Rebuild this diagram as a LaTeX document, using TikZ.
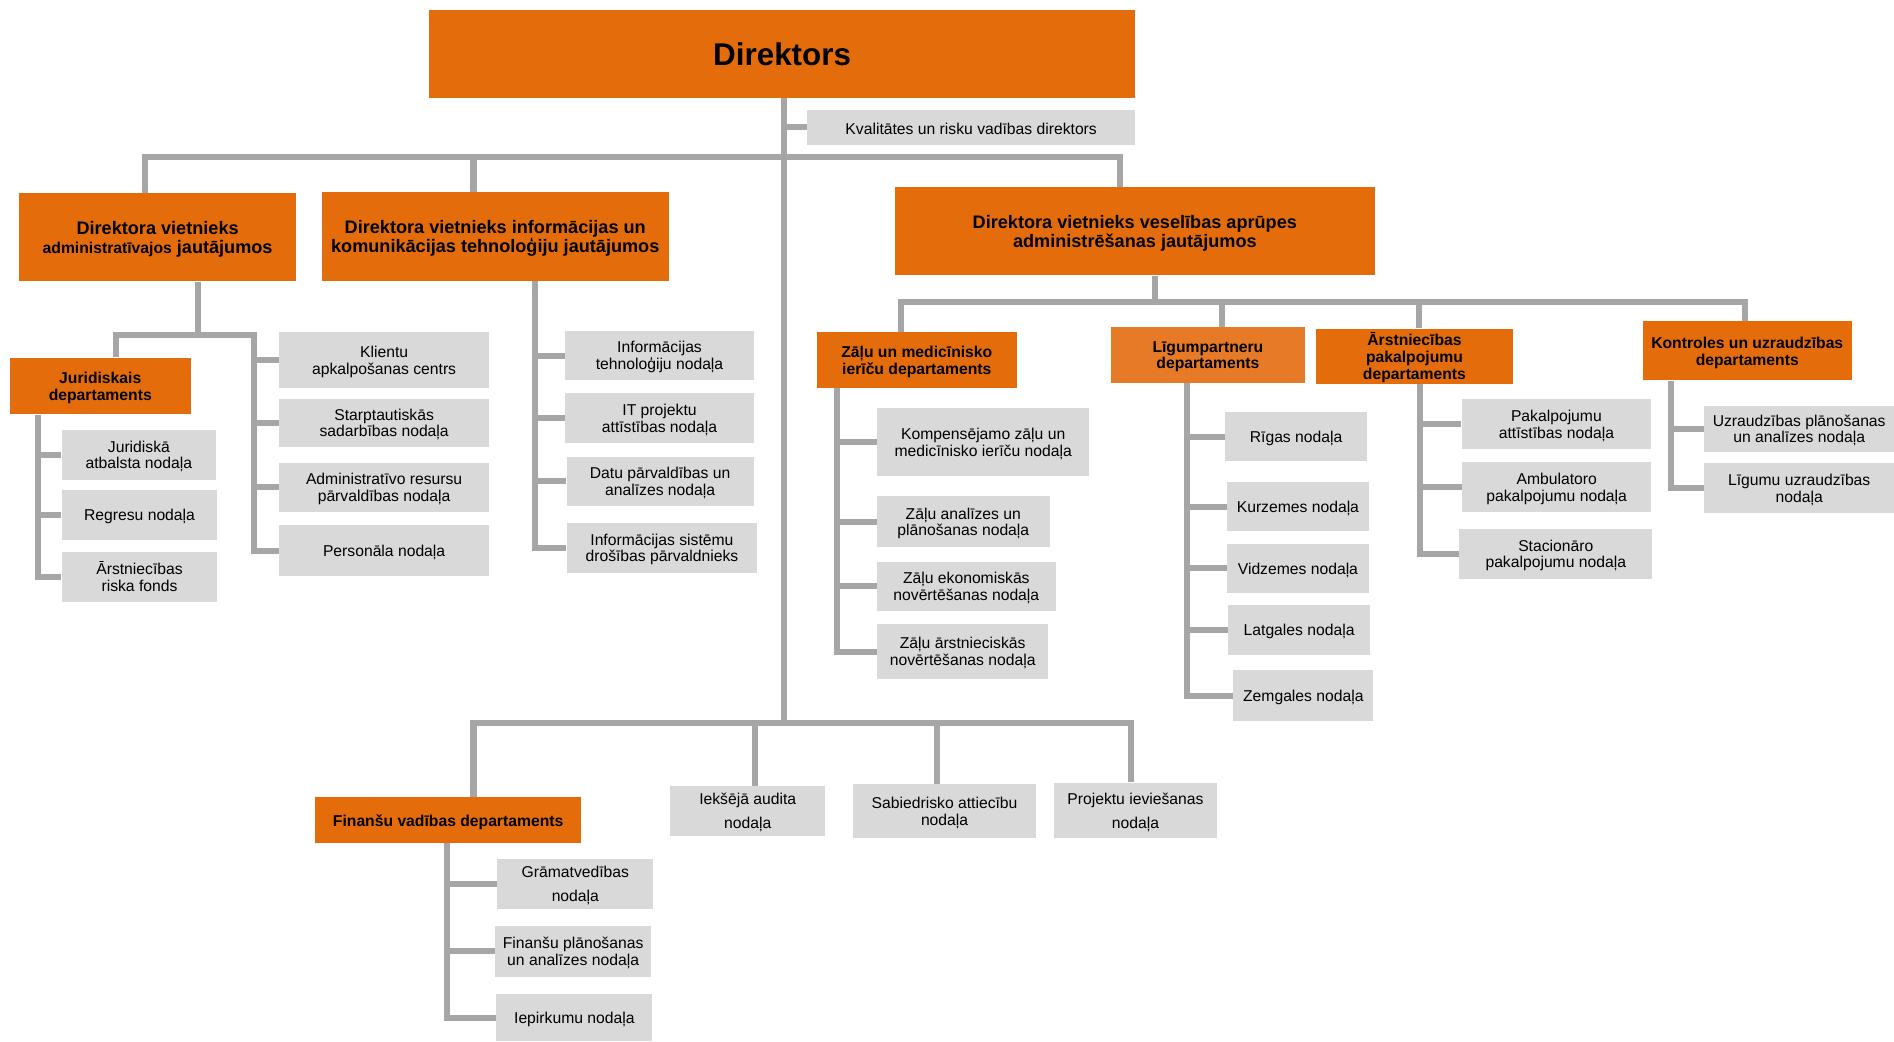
\documentclass[tikz,border=0pt]{standalone}
\usepackage{fontspec}
\setmainfont{Liberation Sans}
\usetikzlibrary{calc}
\definecolor{org}{HTML}{E46C0A}
\definecolor{orgl}{HTML}{E77A26}
\definecolor{gbox}{HTML}{D9D9D9}
\definecolor{lnc}{HTML}{A6A6A6}
\tikzset{
  box/.style={inner sep=0pt, align=center, text=black, text depth=0pt},
  ob/.style={box, fill=org, font=\bfseries\fontsize{13}{14}\selectfont},
  obig/.style={box, fill=org, font=\bfseries\fontsize{15}{15.7}\selectfont},
  gb/.style={box, fill=gbox, font=\fontsize{13}{14}\selectfont},
  ln/.style={draw=lnc, line width=5pt},
  sz/.style 2 args={minimum width=#1pt, minimum height=#2pt},
}
\begin{document}
\begin{tikzpicture}[x=1pt,y=-1pt]
\useasboundingbox (0,0) rectangle (1568,862);
% top level
\node[obig, sz={585}{73}, font=\bfseries\fontsize{26}{30}\selectfont] (dir) at (647.5,44.5) {Direktors};
\node[gb, sz={272}{29}, text height=11pt] (kval) at (804,105.5) {Kvalitātes un risku vadības direktors};
\node[obig, sz={229.5}{73}] (adm) at (130.5,196.5) {Direktora vietnieks\\{\fontsize{13}{15.7}\selectfont administratīvajos} jautājumos};
\node[obig, sz={287.6}{73.6}] (it) at (410,196) {Direktora vietnieks informācijas un\\komunikācijas tehnoloģiju jautājumos};
\node[obig, sz={397}{73}] (ves) at (939.5,191.5) {Direktora vietnieks veselības aprūpes\\administrēšanas jautājumos};
% administrative
\node[ob, sz={150}{47}] (jur) at (83,319.5) {Juridiskais\\departaments};
\node[gb, sz={128}{41}] (juridiska) at (115,376.5) {Juridiskā\\atbalsta nodaļa};
\node[gb, sz={129}{41}] (regresu) at (115.5,426.5) {Regresu nodaļa};
\node[gb, sz={129}{41}] (arstr) at (115.5,477.5) {Ārstniecības\\riska fonds};
\node[gb, sz={174}{46}] (klientu) at (318,298) {Klientu\\apkalpošanas centrs};
\node[gb, sz={174}{40}] (starpt) at (318,350) {Starptautiskās\\sadarbības nodaļa};
\node[gb, sz={174}{41}] (adminres) at (318,403.5) {Administratīvo resursu\\pārvaldības nodaļa};
\node[gb, sz={174}{42}] (pers) at (318,456) {Personāla nodaļa};
% IT
\node[gb, sz={156}{41}] (inftehn) at (546,294.5) {Informācijas\\tehnoloģiju nodaļa};
\node[gb, sz={156}{42}] (itproj) at (546,346) {IT projektu\\attīstības nodaļa};
\node[gb, sz={155}{41}] (datu) at (546.5,398.5) {Datu pārvaldības un\\analīzes nodaļa};
\node[gb, sz={158}{41}] (infsist) at (548,453.5) {Informācijas sistēmu\\drošības pārvaldnieks};
% health care
\node[ob, sz={166}{46}] (zalu) at (759,298) {Zāļu un medicīnisko\\ierīču departaments};
\node[ob, fill=orgl, sz={160}{46}] (ligum) at (1000,294) {Līgumpartneru\\departaments};
\node[ob, sz={163.5}{46}] (arstpak) at (1171,295) {Ārstniecības\\pakalpojumu\\departaments};
\node[ob, sz={173}{49}] (kontr) at (1446.5,290.5) {Kontroles un uzraudzības\\departaments};
\node[gb, sz={175.6}{56}] (kompens) at (814,366) {Kompensējamo zāļu un\\medicīnisko ierīču nodaļa};
\node[gb, sz={143}{42}] (zanal) at (797.5,432) {Zāļu analīzes un\\plānošanas nodaļa};
\node[gb, sz={148}{41}] (zekon) at (800,485.5) {Zāļu ekonomiskās\\novērtēšanas nodaļa};
\node[gb, sz={142}{45}] (zarst) at (797,539.5) {Zāļu ārstnieciskās\\novērtēšanas nodaļa};
\node[gb, sz={118}{41}] (rigas) at (1073,361.5) {Rīgas nodaļa};
\node[gb, sz={117}{41}] (kurz) at (1074.5,419.5) {Kurzemes nodaļa};
\node[gb, sz={117}{41}] (vidz) at (1074.5,470.5) {Vidzemes nodaļa};
\node[gb, sz={117}{41}] (latg) at (1075.5,521.5) {Latgales nodaļa};
\node[gb, sz={116}{42}] (zemg) at (1079,576) {Zemgales nodaļa};
\node[gb, sz={157}{42}] (pakatt) at (1288.5,351) {Pakalpojumu\\attīstības nodaļa};
\node[gb, sz={156.5}{41.5}] (ambul) at (1288.75,403.25) {Ambulatoro\\pakalpojumu nodaļa};
\node[gb, sz={160}{41}] (stac) at (1288,458.5) {Stacionāro\\pakalpojumu nodaļa};
\node[gb, sz={157}{38}] (uzrpl) at (1489.5,355) {Uzraudzības plānošanas\\un analīzes nodaļa};
\node[gb, sz={157}{42}] (ligumuz) at (1489.5,404) {Līgumu uzraudzības\\nodaļa};
% bottom
\node[ob, sz={220}{38}] (finvad) at (371,679) {Finanšu vadības departaments};
\node[gb, sz={128.5}{41.4}] (iekseja) at (619,671.3) {Iekšējā audita\\[6pt]nodaļa};
\node[gb, sz={151.7}{44.6}] (sabied) at (782,671.3) {Sabiedrisko attiecību\\nodaļa};
\node[gb, sz={135.6}{46}] (projektu) at (940,671) {Projektu ieviešanas\\[6pt]nodaļa};
\node[gb, sz={129.4}{41.6}] (gramat) at (476.3,731.8) {Grāmatvedības\\[6pt]nodaļa};
\node[gb, sz={129}{42}] (finplan) at (474.5,787.6) {Finanšu plānošanas\\un analīzes nodaļa};
\node[gb, sz={129}{39}] (iepirk) at (475.5,842.5) {Iepirkumu nodaļa};

% ---------- connectors ----------
\coordinate (bb) at (649,598.5);
\coordinate (tb) at (649,130);
\draw[ln] ([xshift=1.5pt]dir.south) -- (bb);
\draw[ln] (kval.west -| bb) -- (kval.west);
\draw[ln] ([xshift=-10.5pt]adm.north) |- (tb) -| ([xshift=-12.5pt]ves.north);
\coordinate (itt) at ([xshift=-18pt]it.north);
\draw[ln] (itt) -- (itt |- tb);
% administrative subtree
\coordinate (ab) at ([xshift=33.5pt]adm.south);
\coordinate (ajL) at (96,277);
\coordinate (ajR) at (210,277);
\draw[ln] (ab) -- (ab |- ajL);
\draw[ln] ([xshift=13pt]jur.north) |- (ajL) -- (ajR) |- (pers.west);
\foreach \n in {klientu,starpt,adminres} \draw[ln] (\n.west -| ajR) -- (\n.west);
\coordinate (jv) at ([xshift=-51.5pt]jur.south);
\draw[ln] (jv) |- (arstr.west);
\foreach \n in {juridiska,regresu} \draw[ln] (\n.west -| jv) -- (\n.west);
% IT subtree
\coordinate (iv) at ([xshift=33pt]it.south);
\draw[ln] (iv) |- (infsist.west);
\foreach \n in {inftehn,itproj,datu} \draw[ln] (\n.west -| iv) -- (\n.west);
% health care subtree
\coordinate (vb) at (956,250);
\draw[ln] ([xshift=16.5pt]ves.south) -- (vb);
\draw[ln] ([xshift=-13pt]zalu.north) |- (vb) -| ([xshift=-1.5pt]kontr.north);
\coordinate (lgt) at ([xshift=12pt]ligum.north);
\draw[ln] (lgt) -- (lgt |- vb);
\coordinate (apt) at ([xshift=4pt]arstpak.north);
\draw[ln] (apt) -- (apt |- vb);
\coordinate (zv) at ([xshift=-66pt]zalu.south);
\draw[ln] (zv) |- (zarst.west);
\foreach \n in {kompens,zanal,zekon} \draw[ln] (\n.west -| zv) -- (\n.west);
\coordinate (lv) at ([xshift=-17pt]ligum.south);
\draw[ln] (lv) |- (zemg.west);
\foreach \n in {rigas,kurz,vidz,latg} \draw[ln] (\n.west -| lv) -- (\n.west);
\coordinate (av) at ([xshift=4.6pt]arstpak.south);
\draw[ln] (av) |- (stac.west);
\foreach \n in {pakatt,ambul} \draw[ln] (\n.west -| av) -- (\n.west);
\coordinate (kv) at ([xshift=-63.5pt]kontr.south);
\draw[ln] (kv) |- (ligumuz.west);
\draw[ln] (uzrpl.west -| kv) -- (uzrpl.west);
% bottom subtree
\draw[ln] ([xshift=21pt]finvad.north) |- (bb) -| ([xshift=-4pt]projektu.north);
\coordinate (iet) at ([xshift=6pt]iekseja.north);
\draw[ln] (iet) -- (iet |- bb);
\coordinate (sat) at ([xshift=-6pt]sabied.north);
\draw[ln] (sat) -- (sat |- bb);
\coordinate (fv) at ([xshift=-1pt]finvad.south);
\draw[ln] (fv) |- (iepirk.west);
\foreach \n in {gramat,finplan} \draw[ln] (\n.west -| fv) -- (\n.west);
\end{tikzpicture}
\end{document}
